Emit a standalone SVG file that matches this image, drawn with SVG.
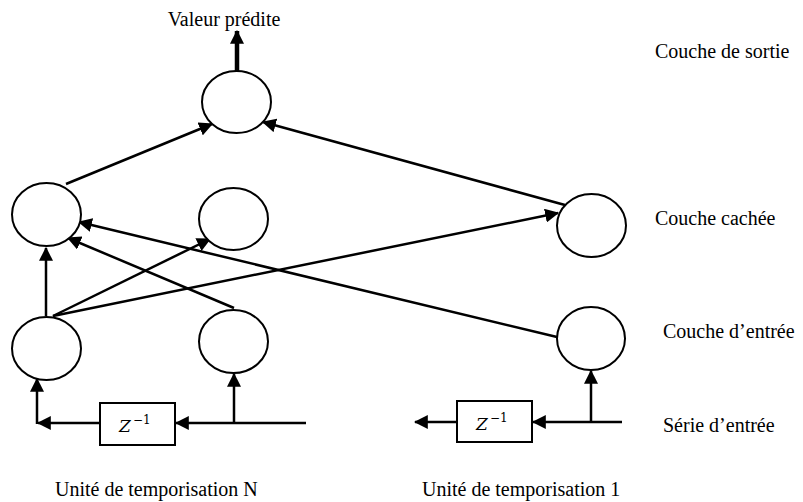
<svg xmlns="http://www.w3.org/2000/svg" width="803" height="502" viewBox="0 0 803 502">
<style>
.n{fill:#fff;stroke:#000;stroke-width:2}
.c{stroke:#000;stroke-width:2.5;fill:none;marker-end:url(#ah)}
.t{font-family:"Liberation Serif","Times New Roman",serif;font-size:20px;fill:#000}
.z{font-family:"DejaVu Serif","Liberation Serif",serif;font-style:italic;font-size:17px;fill:#000}
.s{font-family:"DejaVu Serif","Liberation Serif",serif;font-size:12px;fill:#000}
.b{fill:#fff;stroke:#000;stroke-width:2}
</style>
<defs>
<marker id="ah" viewBox="0 0 12 12" refX="11" refY="6" markerWidth="14" markerHeight="14" markerUnits="userSpaceOnUse" orient="auto">
<path d="M0,0 L12,6 L0,12 z" fill="#000"/>
</marker>
<marker id="ahb" viewBox="0 0 12 12" refX="11" refY="6" markerWidth="14" markerHeight="14" markerUnits="userSpaceOnUse" orient="auto">
<path d="M0,0 L12,6 L0,12 z" fill="#000"/>
</marker>
</defs>
<g id="connectors">
<line class="c" x1="46" y1="316" x2="46" y2="248"/>
<line class="c" x1="53" y1="316" x2="210" y2="239"/>
<line class="c" x1="53" y1="316" x2="558" y2="213"/>
<line class="c" x1="234" y1="308" x2="68" y2="238"/>
<line class="c" x1="557" y1="337" x2="79" y2="222"/>
<line class="c" x1="66" y1="184" x2="212" y2="124"/>
<line class="c" x1="565" y1="205" x2="263" y2="122"/>
<line x1="237" y1="72" x2="237" y2="31" stroke="#000" stroke-width="4.5" marker-end="url(#ahb)"/>
<line class="c" x1="306" y1="423" x2="176" y2="423"/>
<line class="c" x1="234" y1="424" x2="234" y2="374"/>
<line class="c" x1="100" y1="423" x2="38" y2="423"/>
<line class="c" x1="37" y1="424" x2="37" y2="379"/>
<line class="c" x1="622" y1="422" x2="533" y2="422"/>
<line class="c" x1="591" y1="423" x2="591" y2="371"/>
<line class="c" x1="457" y1="422" x2="415" y2="422"/>
</g>
<g id="out"><ellipse class="n" cx="236.5" cy="102" rx="34.5" ry="31"/></g>
<g id="h1"><ellipse class="n" cx="46.5" cy="214.5" rx="34.5" ry="31.5"/></g>
<g id="h2"><ellipse class="n" cx="233.5" cy="219" rx="34.5" ry="31"/></g>
<g id="h3"><ellipse class="n" cx="591.5" cy="225.5" rx="34.5" ry="31.5"/></g>
<g id="i1"><ellipse class="n" cx="46.5" cy="348.5" rx="34.5" ry="31.5"/></g>
<g id="i2"><ellipse class="n" cx="233.5" cy="341.5" rx="34.5" ry="31.5"/></g>
<g id="i3"><ellipse class="n" cx="591" cy="338.5" rx="34" ry="31.5"/></g>
<g id="zN">
<rect class="b" x="100" y="403" width="75" height="42"/>
<text class="z" x="119" y="432">Z</text><text class="s" x="133" y="424">−1</text>
</g>
<g id="z1">
<rect class="b" x="457" y="401" width="75" height="41"/>
<text class="z" x="476" y="430">Z</text><text class="s" x="490" y="422">−1</text>
</g>
<g id="labels">
<text class="t" x="224" y="26" text-anchor="middle">Valeur prédite</text>
<text class="t" x="655" y="58">Couche de sortie</text>
<text class="t" x="655" y="225">Couche cachée</text>
<text class="t" x="663" y="338">Couche d’entrée</text>
<text class="t" x="663" y="432">Série d’entrée</text>
<text class="t" x="55" y="496">Unité de temporisation N</text>
<text class="t" x="422" y="496">Unité de temporisation 1</text>
</g>
</svg>
